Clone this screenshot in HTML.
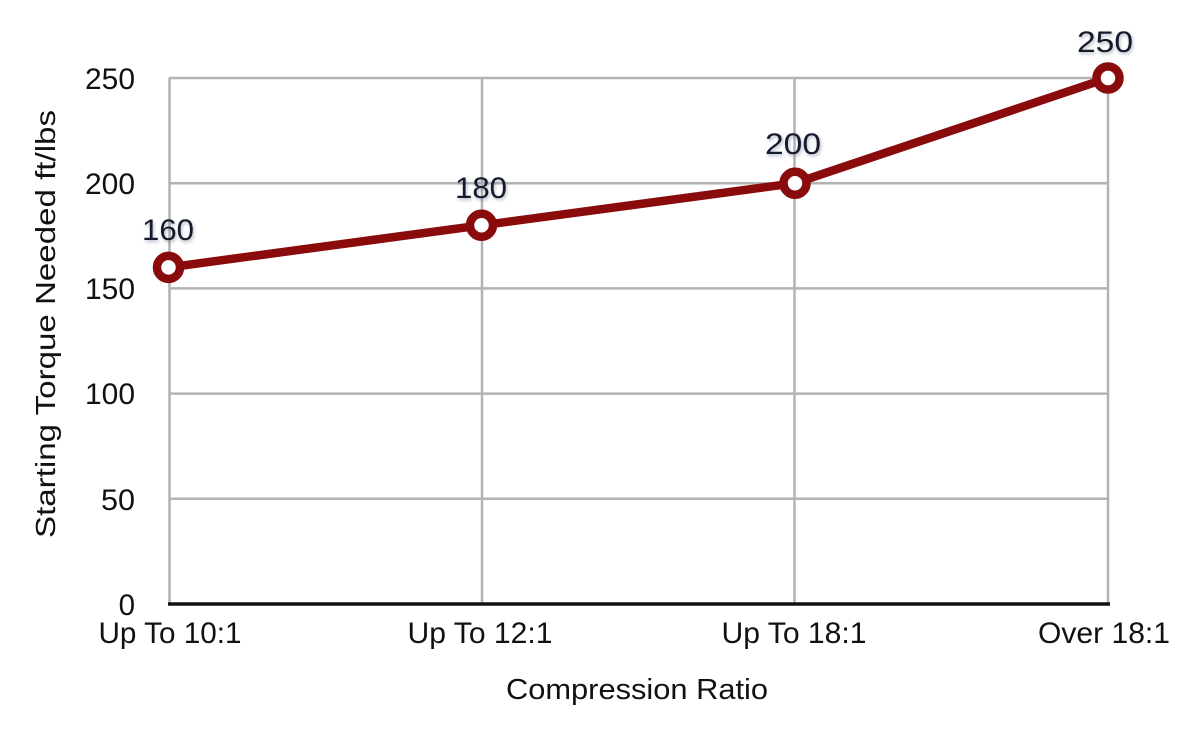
<!DOCTYPE html>
<html>
<head>
<meta charset="utf-8">
<style>
  html,body{margin:0;padding:0;background:#fff;}
  svg{display:block;}
  text{font-family:"Liberation Sans",Arial,sans-serif;}
  .tick{font-size:29.5px;fill:#111;}
  .dl{font-size:30px;fill:#151b2c;text-shadow:1px 2px 3px rgba(90,100,130,0.45);}
</style>
</head>
<body>
<svg width="1200" height="737" viewBox="0 0 1200 737" xmlns="http://www.w3.org/2000/svg">
  <rect width="1200" height="737" fill="#fff"/>
  <!-- horizontal gridlines -->
  <g stroke="#b3b3b3" stroke-width="2.5">
    <line x1="169" y1="78" x2="1109" y2="78"/>
    <line x1="169" y1="183.2" x2="1109" y2="183.2"/>
    <line x1="169" y1="288.4" x2="1109" y2="288.4"/>
    <line x1="169" y1="393.6" x2="1109" y2="393.6"/>
    <line x1="169" y1="498.8" x2="1109" y2="498.8"/>
    <!-- vertical gridlines -->
    <line x1="169.5" y1="78" x2="169.5" y2="604"/>
    <line x1="482" y1="78" x2="482" y2="604"/>
    <line x1="794.5" y1="78" x2="794.5" y2="604"/>
    <line x1="1108" y1="78" x2="1108" y2="604"/>
  </g>
  <!-- x axis -->
  <line x1="168" y1="604" x2="1110" y2="604" stroke="#111" stroke-width="3.5"/>

  <!-- y tick labels -->
  <g class="tick" text-anchor="end">
    <text x="135" y="89" textLength="50" lengthAdjust="spacingAndGlyphs">250</text>
    <text x="135" y="194" textLength="50" lengthAdjust="spacingAndGlyphs">200</text>
    <text x="135" y="299" textLength="50" lengthAdjust="spacingAndGlyphs">150</text>
    <text x="135" y="404" textLength="50" lengthAdjust="spacingAndGlyphs">100</text>
    <text x="135" y="510" textLength="34" lengthAdjust="spacingAndGlyphs">50</text>
    <text x="135" y="615">0</text>
  </g>

  <!-- x tick labels -->
  <g class="tick" text-anchor="middle">
    <text x="170" y="643" textLength="143" lengthAdjust="spacingAndGlyphs">Up To 10:1</text>
    <text x="480" y="643" textLength="145" lengthAdjust="spacingAndGlyphs">Up To 12:1</text>
    <text x="794" y="643" textLength="145" lengthAdjust="spacingAndGlyphs">Up To 18:1</text>
    <text x="1104" y="643" textLength="132" lengthAdjust="spacingAndGlyphs">Over 18:1</text>
  </g>

  <!-- axis titles -->
  <text x="637" y="699" text-anchor="middle" font-size="29" fill="#111" textLength="262" lengthAdjust="spacingAndGlyphs">Compression Ratio</text>
  <text transform="translate(55,324) rotate(-90)" x="0" y="0" text-anchor="middle" font-size="28" fill="#111" textLength="428" lengthAdjust="spacingAndGlyphs">Starting Torque Needed ft/lbs</text>

  <!-- series line -->
  <polyline points="168.5,267.4 481.5,225.3 795,183.2 1108,78" fill="none" stroke="#8a0b0b" stroke-width="8.5" stroke-linejoin="round" stroke-linecap="round"/>
  <!-- markers -->
  <g fill="#fff" stroke="#8a0b0b" stroke-width="8.5">
    <circle cx="168.5" cy="267.4" r="11.5"/>
    <circle cx="481.5" cy="225.3" r="11.5"/>
    <circle cx="795" cy="183.2" r="11.5"/>
    <circle cx="1108" cy="78" r="11.5"/>
  </g>

  <!-- data labels -->
  <g class="dl" text-anchor="middle">
    <text x="168" y="240" textLength="52" lengthAdjust="spacingAndGlyphs">160</text>
    <text x="481" y="198" textLength="52" lengthAdjust="spacingAndGlyphs">180</text>
    <text x="793" y="154" textLength="56" lengthAdjust="spacingAndGlyphs">200</text>
    <text x="1105" y="52" textLength="56" lengthAdjust="spacingAndGlyphs">250</text>
  </g>
</svg>
</body>
</html>
